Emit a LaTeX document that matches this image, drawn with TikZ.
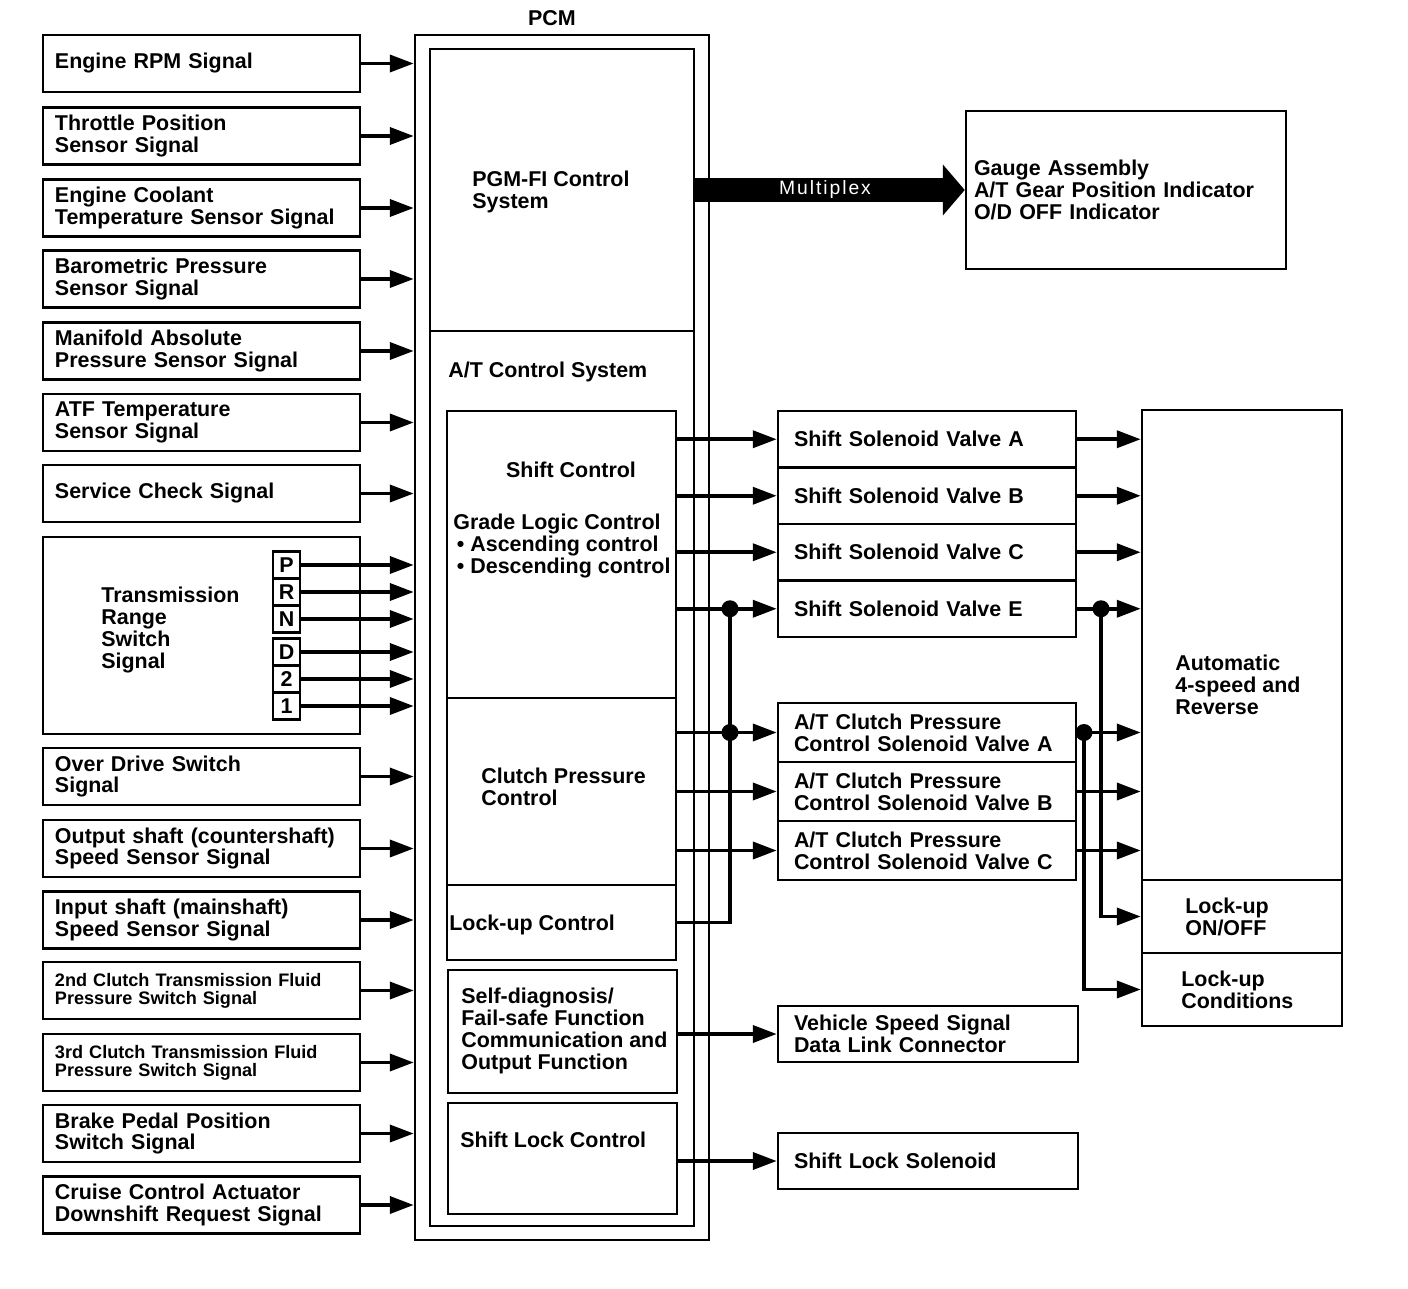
\documentclass[tikz,border=0pt]{standalone}
\usepackage{fontspec}
\setmainfont{Liberation Sans}
\newfontfamily\mpxfont[LetterSpace=10]{Liberation Sans}
\usepackage{tikz}
\usetikzlibrary{arrows.meta, positioning}

\begin{document}
\begin{tikzpicture}[
    x=0.2mm, y=-0.2mm,
    every node/.style={inner sep=0pt, font=\bfseries\fontsize{12.2}{12.4}\selectfont},
    box/.style={draw, line width=0.5mm},
    input/.style={box, minimum width=63.4mm, minimum height=11.4mm, text width=58.6mm, inner xsep=2.4mm, align=left},
    small input/.style={input, font=\bfseries\fontsize{10.3}{10.3}\selectfont},
    range key/.style={box, minimum size=5.4mm},
    output/.style={box, minimum width=59.6mm, text width=53.2mm, inner xsep=3.2mm, align=left},
    block/.style={box, minimum width=45.8mm},
    txt/.style={anchor=west, align=left},
    sig/.style={draw, line width=0.75mm, -{Triangle[length=4.8mm, width=3.4mm]}},
    wire/.style={draw, line width=0.75mm},
    junction/.style={circle, fill, minimum size=3.4mm},
    multiplex/.style={draw, line width=4.8mm, -{Triangle[length=4.4mm, width=10mm]}},
]
\useasboundingbox (0,0) rectangle (1408,1288);

% input signals
\node[input] (rpm) at (201.5,63.5) {Engine RPM Signal};
\node[input] (tps) at (201.5,136) {Throttle Position\\Sensor Signal};
\node[input] (ect) at (201.5,208) {Engine Coolant\\Temperature Sensor Signal};
\node[input] (baro) at (201.5,279) {Barometric Pressure\\Sensor Signal};
\node[input] (map) at (201.5,351) {Manifold Absolute\\Pressure Sensor Signal};
\node[input] (atf) at (201.5,422.5) {ATF Temperature\\Sensor Signal};
\node[input] (svc) at (201.5,493.5) {Service Check Signal};
\node[input, minimum height=39.4mm, inner xsep=11.6mm, text width=40.2mm] (trs) at (201.5,635.5) {};
\node[txt] (trslbl) at (101,630) {Transmission\\Range\\Switch\\Signal};
\node[input] (od) at (201.5,776.5) {Over Drive Switch\\Signal};
\node[input] (oss) at (201.5,848.5) {Output shaft (countershaft)\\Speed Sensor Signal};
\node[input] (iss) at (201.5,920) {Input shaft (mainshaft)\\Speed Sensor Signal};
\node[small input] (c2) at (201.5,990.5) {2nd Clutch Transmission Fluid\\Pressure Switch Signal};
\node[small input] (c3) at (201.5,1062.5) {3rd Clutch Transmission Fluid\\Pressure Switch Signal};
\node[input] (bpp) at (201.5,1133.5) {Brake Pedal Position\\Switch Signal};
\node[input] (ccd) at (201.5,1205) {Cruise Control Actuator\\Downshift Request Signal};

% range switch positions
\node[range key] (keyP) at (286.5,565) {P};
\node[range key] (keyR) at (286.5,592) {R};
\node[range key] (keyN) at (286.5,619) {N};
\node[range key] (keyD) at (286.5,652) {D};
\node[range key] (key2) at (286.5,679) {2};
\node[range key] (key1) at (286.5,706) {1};

% PCM
\node[box, minimum width=58.8mm, minimum height=241mm] (pcm) at (562,637.5) {};
\node[box, minimum width=52.8mm, minimum height=235.4mm] (pcmin) at (562,637.5) {};
\node (pcmlbl) at (552,18) {PCM};
\draw[box] (pcmin.west |- 0,331) -- (pcmin.east |- 0,331);
\node[block, minimum height=57.4mm] (shiftctl) at (561.5,554.5) {};
\node[block, minimum height=37.4mm] (clutch) at (561.5,791.5) {};
\node[block, minimum height=15mm] (lockup) at (561.5,922.5) {};
\node[block, minimum height=24.6mm] (selfdiag) at (562.5,1031.5) {};
\node[block, minimum height=22.2mm] (shiftlock) at (562.5,1158.5) {};

\node[txt] (pgmfi) at (472,192) {PGM-FI Control\\System};
\node[txt] (atcs) at (448,372) {A/T Control System};
\node (shiftlbl) at (571,470) {Shift Control};
\node[txt] (grade) at (453,546) {Grade Logic Control\\\,\textbullet\ Ascending control\\\,\textbullet\ Descending control};
\node[txt] (clutchlbl) at (481,787) {Clutch Pressure\\Control};
\node[txt] (lockuplbl) at (449,925) {Lock-up Control};
\node[txt] (selfdiaglbl) at (461,1031) {Self-diagnosis/\\Fail-safe Function\\Communication and\\Output Function};
\node[txt] (shiftlocklbl) at (460,1140) {Shift Lock Control};

% outputs
\node[box, minimum width=64mm, minimum height=31.6mm, text width=60.8mm, inner xsep=1.6mm, align=left] (gauge) at (1126,190) {Gauge Assembly\\A/T Gear Position Indicator\\O/D OFF Indicator};
\node[output, minimum height=11.3mm] (ssa) at (927,439.25) {Shift Solenoid Valve A};
\node[output, minimum height=11.3mm] (ssb) at (927,495.75) {Shift Solenoid Valve B};
\node[output, minimum height=11.3mm] (ssc) at (927,552.25) {Shift Solenoid Valve C};
\node[output, minimum height=11.3mm] (sse) at (927,608.75) {Shift Solenoid Valve E};
\node[output, minimum height=11.8mm] (cpa) at (927,732.5) {A/T Clutch Pressure\\Control Solenoid Valve A};
\node[output, minimum height=11.8mm] (cpb) at (927,791.5) {A/T Clutch Pressure\\Control Solenoid Valve B};
\node[output, minimum height=11.8mm] (cpc) at (927,850.5) {A/T Clutch Pressure\\Control Solenoid Valve C};
\node[output, minimum width=60mm, text width=53.6mm, minimum height=11.2mm] (vss) at (928,1034) {Vehicle Speed Signal\\Data Link Connector};
\node[output, minimum width=60mm, text width=53.6mm, minimum height=11.2mm] (sls) at (928,1161) {Shift Lock Solenoid};

% transmission
\node[box, minimum width=40mm, minimum height=94mm] (auto) at (1242,645) {};
\node[txt] (autolbl) at (1175,685) {Automatic\\4-speed and\\Reverse};
\node[box, minimum width=40mm, minimum height=14.6mm] (lockon) at (1242,916.5) {};
\node[txt] (lockonlbl) at (1185,917) {Lock-up\\ON/OFF};
\node[box, minimum width=40mm, minimum height=14.6mm] (lockcond) at (1242,989.5) {};
\node[txt] (lockcondlbl) at (1181,990) {Lock-up\\Conditions};

% signals into PCM
\draw[sig] (rpm.east) -- (rpm.east -| pcm.west);
\draw[sig] (tps.east) -- (tps.east -| pcm.west);
\draw[sig] (ect.east) -- (ect.east -| pcm.west);
\draw[sig] (baro.east) -- (baro.east -| pcm.west);
\draw[sig] (map.east) -- (map.east -| pcm.west);
\draw[sig] (atf.east) -- (atf.east -| pcm.west);
\draw[sig] (svc.east) -- (svc.east -| pcm.west);
\draw[sig] (keyP.east) -- (keyP.east -| pcm.west);
\draw[sig] (keyR.east) -- (keyR.east -| pcm.west);
\draw[sig] (keyN.east) -- (keyN.east -| pcm.west);
\draw[sig] (keyD.east) -- (keyD.east -| pcm.west);
\draw[sig] (key2.east) -- (key2.east -| pcm.west);
\draw[sig] (key1.east) -- (key1.east -| pcm.west);
\draw[sig] (od.east) -- (od.east -| pcm.west);
\draw[sig] (oss.east) -- (oss.east -| pcm.west);
\draw[sig] (iss.east) -- (iss.east -| pcm.west);
\draw[sig] (c2.east) -- (c2.east -| pcm.west);
\draw[sig] (c3.east) -- (c3.east -| pcm.west);
\draw[sig] (bpp.east) -- (bpp.east -| pcm.west);
\draw[sig] (ccd.east) -- (ccd.east -| pcm.west);

% PCM to solenoids
\draw[multiplex] (gauge.west -| pcmin.east) -- (gauge.west);
\node[text=white, font=\mpxfont\fontsize{11}{11}\selectfont] (mpxlbl) at (825,190) {Multiplex};
\draw[sig] (ssa.west -| shiftctl.east) -- (ssa.west);
\draw[sig] (ssb.west -| shiftctl.east) -- (ssb.west);
\draw[sig] (ssc.west -| shiftctl.east) -- (ssc.west);
\draw[sig] (sse.west -| shiftctl.east) -- (sse.west);
\draw[sig] (cpa.west -| clutch.east) -- (cpa.west);
\draw[sig] (cpb.west -| clutch.east) -- (cpb.west);
\draw[sig] (cpc.west -| clutch.east) -- (cpc.west);
\coordinate (jShift) at (730,0 |- sse.west);
\coordinate (jClutch) at (730,0 |- cpa.west);
\draw[wire] (jShift) -- (jShift |- lockup.east) -- (lockup.east);
\node[junction] (dotShift) at (jShift) {};
\node[junction] (dotClutch) at (jClutch) {};
\draw[sig] (selfdiag.east |- vss.west) -- (vss.west);
\draw[sig] (shiftlock.east |- sls.west) -- (sls.west);

% solenoids to transmission
\draw[sig] (ssa.east) -- (ssa.east -| auto.west);
\draw[sig] (ssb.east) -- (ssb.east -| auto.west);
\draw[sig] (ssc.east) -- (ssc.east -| auto.west);
\draw[sig] (sse.east) -- (sse.east -| auto.west);
\draw[sig] (cpa.east) -- (cpa.east -| auto.west);
\draw[sig] (cpb.east) -- (cpb.east -| auto.west);
\draw[sig] (cpc.east) -- (cpc.east -| auto.west);
\coordinate (jLockOn) at (1101,0 |- sse.east);
\coordinate (jLockCond) at (1084,0 |- cpa.east);
\draw[sig] (jLockOn) -- (jLockOn |- lockon.west) -- (lockon.west);
\draw[sig] (jLockCond) -- (jLockCond |- lockcond.west) -- (lockcond.west);
\node[junction] (dotLockOn) at (jLockOn) {};
\node[junction] (dotLockCond) at (jLockCond) {};

\end{tikzpicture}
\end{document}
